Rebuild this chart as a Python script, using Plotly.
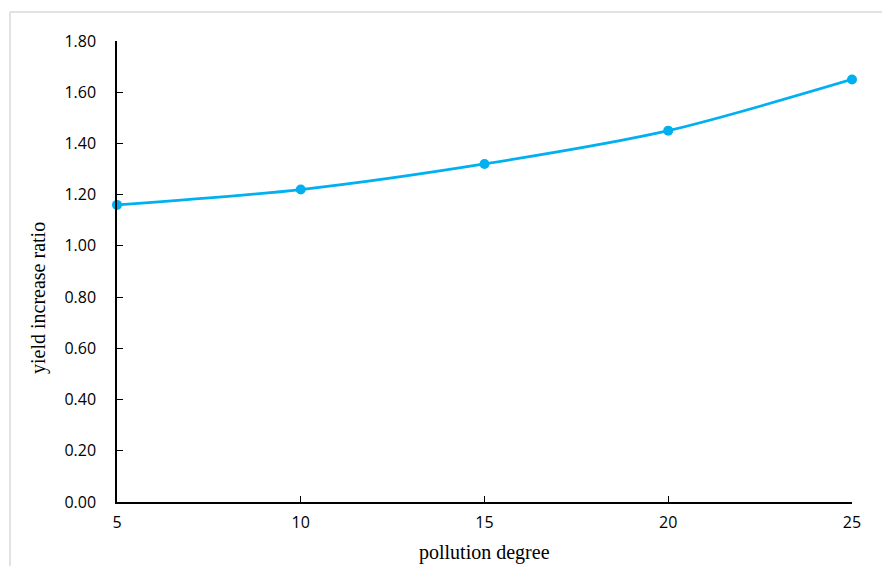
import plotly.graph_objects as go

pollution_degree = [5, 10, 15, 20, 25]
yield_increase_ratio = [1.16, 1.22, 1.32, 1.45, 1.65]
y_ticks = [0.0, 0.2, 0.4, 0.6, 0.8, 1.0, 1.2, 1.4, 1.6, 1.8]
x_ticks = [5, 10, 15, 20, 25]

W, H = 882, 566
L, R, T, B = 117, 30, 41, 64
pw, ph = W - L - R, H - T - B

def px_x(p):
    return (p - L) / pw

def px_y(p):
    return 1 - (p - T) / ph

fig = go.Figure()
fig.add_trace(go.Scatter(
    x=pollution_degree, y=yield_increase_ratio,
    mode="lines+markers",
    line=dict(color="#00B0F0", width=2.75, shape="spline", smoothing=0.8),
    marker=dict(color="#00B0F0", size=10),
    cliponaxis=False,
    showlegend=False,
))

fig.update_layout(
    width=W, height=H,
    margin=dict(l=L, r=R, t=T, b=B),
    paper_bgcolor="white", plot_bgcolor="white",
    font=dict(family="Open Sans, Lato, sans-serif", size=16, color="#000000"),
    xaxis=dict(
        range=[5, 25], tickvals=x_ticks, ticktext=[str(v) for v in x_ticks],
        showline=True, linecolor="#000000", linewidth=1.5,
        ticks="inside", ticklen=6, tickcolor="#000000", tickwidth=1.2,
        showgrid=False, zeroline=False, ticklabelstandoff=5,
    ),
    yaxis=dict(
        range=[0, 1.8], tickvals=y_ticks, ticktext=[f"{v:.2f}" for v in y_ticks],
        showline=True, linecolor="#000000", linewidth=1.5,
        ticks="inside", ticklen=6, tickcolor="#000000", tickwidth=1.2,
        showgrid=False, zeroline=False, ticklabelstandoff=16,
    ),
    shapes=[
        dict(type="line", xref="paper", yref="paper",
             x0=px_x(10), x1=px_x(W + 5), y0=px_y(12), y1=px_y(12),
             line=dict(color="#D9D9D9", width=1.5)),
        dict(type="line", xref="paper", yref="paper",
             x0=px_x(10), x1=px_x(10), y0=px_y(12), y1=px_y(H + 5),
             line=dict(color="#D9D9D9", width=1.5)),
    ],
    annotations=[
        dict(text="pollution degree", xref="paper", yref="paper",
             x=px_x(484), y=px_y(552), showarrow=False,
             font=dict(family="Liberation Serif, Times New Roman, serif", size=20),
             xanchor="center", yanchor="middle"),
        dict(text="yield increase ratio", xref="paper", yref="paper",
             x=px_x(38), y=px_y(298), showarrow=False, textangle=-90,
             font=dict(family="Liberation Serif, Times New Roman, serif", size=20),
             xanchor="center", yanchor="middle"),
    ],
)

fig.write_html("out.html", config={"displayModeBar": False},
               post_script="document.body.style.margin='0';document.body.style.overflow='hidden';")
